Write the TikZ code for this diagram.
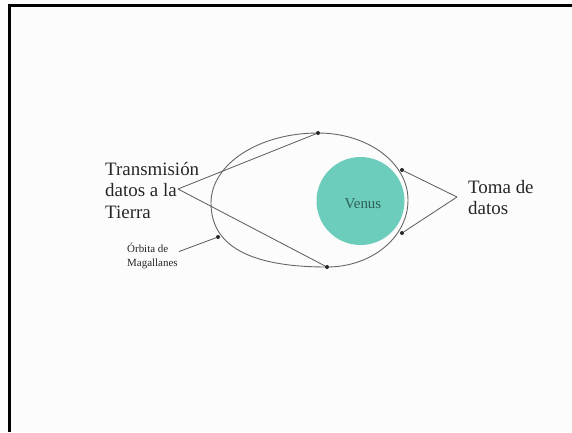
\documentclass[tikz,border=0pt]{standalone}
\usepackage{fontspec}
\setmainfont{Liberation Serif}
\usetikzlibrary{positioning}
\definecolor{venusteal}{RGB}{108,205,188}
\definecolor{venustext}{RGB}{45,95,88}
\definecolor{paper}{RGB}{252,252,252}
\tikzset{planet/.style={circle,fill=venusteal,draw=none,minimum size=88bp,inner sep=0pt,text=venustext,font=\fontsize{15}{15}\selectfont},
         orbit dot/.style={circle,fill=black!85,inner sep=0pt,minimum size=4bp},
         big label/.style={align=left,anchor=north west,inner sep=0pt,text=black!85,font=\fontsize{19}{21.5}\selectfont},
         small label/.style={align=left,anchor=north west,inner sep=0pt,text=black!85,font=\fontsize{11}{13.5}\selectfont},
         pointer/.style={draw=black!65,line width=0.8bp},
         orbit line/.style={draw=black!60,line width=0.9bp},
            }

\begin{document}
\begin{tikzpicture}[x=1bp,y=-1bp]
    \fill[paper] (0,0) rectangle (572,432);
    \useasboundingbox (0,0) rectangle (572,432);
    \draw[line width=2.6bp] (9.5,432) -- (9.5,5.3) -- (572,5.3);

    % orbita
    \draw[orbit line] (318,133) .. controls (368,133) and (408,163) .. (408,200)
                      .. controls (408,237) and (372,267) .. (327,267)
                      .. controls (250,267) and (211,246) .. (211,203)
                      .. controls (211,164) and (259,133) .. (318,133) -- cycle;

    \node[planet] (venus) at (360.5,201) {};
    \node[text=venustext,font=\fontsize{15}{15}\selectfont,inner sep=0pt] (vname) at (363,204) {Venus};

    \node[orbit dot] (d1) at (318,133) {};
    \node[orbit dot] (d2) at (327,267) {};
    \node[orbit dot] (d3) at (218,237) {};
    \node[orbit dot] (d4) at (402,170) {};
    \node[orbit dot] (d5) at (402,233) {};

    \node[big label] (trans) at (105,162) {Transmisión\\datos a la\\Tierra};
    \node[big label] (toma) at (468,180) {Toma de\\datos};
    \node[small label] (mag) at (127,243) {Órbita de\\Magallanes};

    \coordinate (tx) at (178,189);
    \coordinate (tt) at (457,197);
    \coordinate (tm) at (179,251.5);

    \path[pointer]
    (tx) edge (d1)
    (tx) edge (d2)
    (tt) edge (d4)
    (tt) edge (d5)
    (tm) edge (d3);
  \end{tikzpicture}
\end{document}
